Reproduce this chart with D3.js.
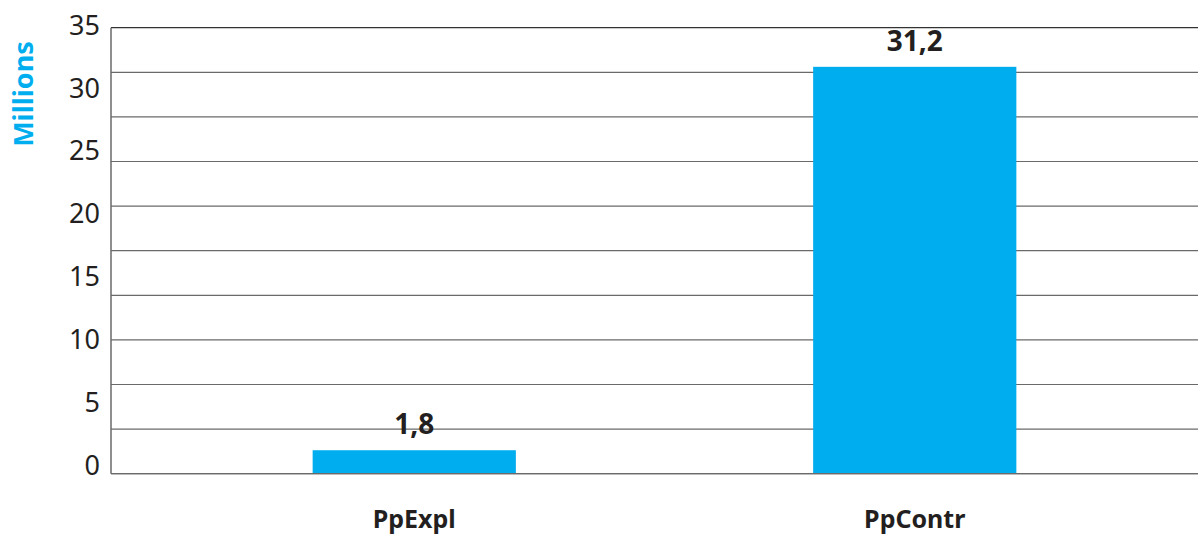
<!DOCTYPE html>
<html><head><meta charset="utf-8">
<script src="https://cdn.jsdelivr.net/npm/d3@7"></script>
<style>body{margin:0;background:#fff}svg{display:block}</style>
</head><body>
<svg id="c" width="1198" height="537"></svg>
<script>
const categories = ["PpExpl", "PpContr"];
const values = [1.8, 31.2];
const valueLabels = ["1,8", "31,2"];
const tickValues = [0, 5, 10, 15, 20, 25, 30, 35];
const axisTitle = "Millions";

const svg = d3.select("#c");
const plotLeft = 111, plotRight = 1198, plotTop = 27.7, plotBottom = 473.7;
const yMax = 34.2;
const y = d3.scaleLinear().domain([0, yMax]).range([plotBottom, plotTop]);
const yLab = d3.scaleLinear().domain([0, 35]).range([465, 25]);
const x = d3.scaleBand().domain(categories).range([164, 1165]).paddingInner(0.594).paddingOuter(0.297);

// gridlines: 10 equal divisions
const grid = d3.range(0, 11).map(i => yMax * i / 10);
svg.append("g").selectAll("line").data(grid).join("line")
  .attr("x1", plotLeft).attr("x2", plotRight)
  .attr("y1", d => y(d)).attr("y2", d => y(d))
  .attr("stroke", (d,i) => i === 10 ? "#333" : "#6a6a6a").attr("stroke-width", 1.2);

// bars
svg.append("g").selectAll("rect").data(values).join("rect")
  .attr("x", (d,i) => x(categories[i])).attr("width", x.bandwidth())
  .attr("y", d => y(d)).attr("height", d => y(0) - y(d))
  .attr("fill", "#00adee");

// left axis line
svg.append("line").attr("x1", plotLeft).attr("x2", plotLeft).attr("y1", plotTop).attr("y2", plotBottom)
  .attr("stroke", "#6a6a6a").attr("stroke-width", 1.5);
// bottom line over bars
svg.append("line").attr("x1", plotLeft).attr("x2", plotRight).attr("y1", plotBottom).attr("y2", plotBottom)
  .attr("stroke", "#6a6a6a").attr("stroke-width", 1.2);

// tick labels
svg.append("g").selectAll("text").data(tickValues).join("text")
  .attr("x", 100).attr("y", d => yLab(d)).attr("dy", "0.36em")
  .attr("text-anchor", "end")
  .attr("font-family", "Noto Sans").attr("font-size", 27).attr("fill", "#231f20")
  .text(d => d);

// value labels
svg.append("g").selectAll("text").data(values).join("text")
  .attr("x", (d,i) => x(categories[i]) + x.bandwidth()/2)
  .attr("y", d => y(d) - 16)
  .attr("text-anchor", "middle")
  .attr("font-family", "Noto Sans").attr("font-weight", "bold").attr("font-size", 28).attr("fill", "#231f20")
  .text((d,i) => valueLabels[i]);

// category labels
svg.append("g").selectAll("text").data(categories).join("text")
  .attr("x", d => x(d) + x.bandwidth()/2).attr("y", 528)
  .attr("text-anchor", "middle")
  .attr("font-family", "Noto Sans").attr("font-weight", "bold").attr("font-size", 25).attr("fill", "#231f20")
  .text(d => d);

// axis title
svg.append("text").attr("transform", "translate(33,94) rotate(-90)")
  .attr("text-anchor", "middle")
  .attr("font-family", "Noto Sans").attr("font-weight", "bold").attr("font-size", 27).attr("fill", "#00aeef")
  .text(axisTitle);
</script>
</body></html>
